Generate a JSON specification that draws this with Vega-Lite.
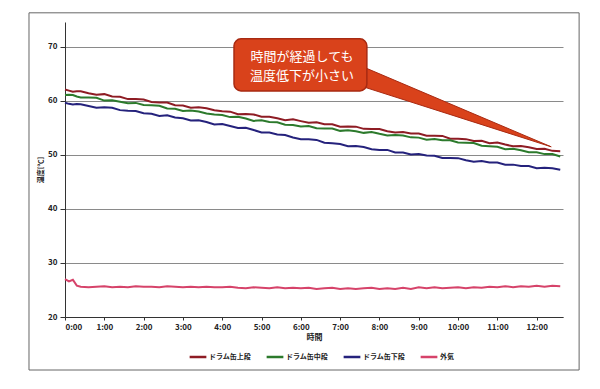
{
  "$schema": "https://vega.github.io/schema/vega-lite/v6.json",
  "width": 498,
  "height": 295,
  "autosize": {"type": "none"},
  "padding": {"left": 65, "top": 22, "right": 37, "bottom": 72},
  "background": "white",
  "config": {"font": "Noto Sans CJK JP", "view": {"stroke": null}},
  "layer": [
    {
      "data": {"values": [{"x1": -0.916, "x2": 13.08, "y1": 10.19, "y2": 76.3}]},
      "mark": {"type": "rect", "filled": false, "stroke": "#666666", "strokeWidth": 1},
      "encoding": {
        "x": {"field": "x1", "type": "quantitative", "scale": {"domain": [0, 12.67], "nice": false, "zero": false}},
        "x2": {"field": "x2"},
        "y": {"field": "y1", "type": "quantitative", "scale": {"domain": [20, 74.6], "nice": false, "zero": false}},
        "y2": {"field": "y2"}
      }
    },
    {
      "data": {"values": [
        {"t":0,"ドラム缶上段":62.10,"ドラム缶中段":61.10,"ドラム缶下段":59.65,"外気":27.0},
        {"t":0.1,"ドラム缶上段":61.9,"ドラム缶中段":61.15,"ドラム缶下段":59.45,"外気":26.6},
        {"t":0.2,"ドラム缶上段":61.71,"ドラム缶中段":61.07,"ドラム缶下段":59.32,"外気":26.9},
        {"t":0.3,"ドラム缶上段":61.8,"ドラム缶中段":60.8,"ドラム缶下段":59.4,"外気":25.8},
        {"t":0.4,"ドラム缶上段":61.77,"ドラム缶中段":60.64,"ドラム缶下段":59.39,"外気":25.6},
        {"t":0.6,"ドラム缶上段":61.43,"ドラム缶中段":60.61,"ドラム缶下段":59.06,"外気":25.5},
        {"t":0.8,"ドラム缶上段":61.14,"ドラム缶中段":60.58,"ドラム缶下段":58.73,"外気":25.6},
        {"t":1.0,"ドラム缶上段":61.25,"ドラム缶中段":60.05,"ドラム缶下段":58.80,"外気":25.7},
        {"t":1.2,"ドラム缶上段":60.81,"ドラム缶中段":60.12,"ドラム缶下段":58.72,"外気":25.5},
        {"t":1.4,"ドラム缶上段":60.77,"ドラム缶中段":59.84,"ドラム缶下段":58.29,"外気":25.6},
        {"t":1.6,"ドラム缶上段":60.33,"ドラム缶中段":59.56,"ドラム缶下段":58.16,"外気":25.5},
        {"t":1.8,"ドラム缶上段":60.34,"ドラム缶中段":59.63,"ドラム缶下段":58.13,"外気":25.7},
        {"t":2.0,"ドラム缶上段":60.25,"ドラム缶中段":59.25,"ドラム缶下段":57.70,"外気":25.6},
        {"t":2.2,"ドラム缶上段":59.80,"ドラム缶中段":59.20,"ドラム缶下段":57.63,"外気":25.6},
        {"t":2.4,"ドラム缶上段":59.70,"ドラム缶中段":59.10,"ドラム缶下段":57.21,"外気":25.5},
        {"t":2.6,"ドラム缶上段":59.70,"ドラム缶中段":58.60,"ドラム缶下段":57.34,"外気":25.7},
        {"t":2.8,"ドラム缶上段":59.20,"ドラム缶中段":58.55,"ドラム缶下段":56.92,"外気":25.6},
        {"t":3.0,"ドラム缶上段":59.15,"ドラム缶中段":58.15,"ドラム缶下段":56.80,"外気":25.5},
        {"t":3.2,"ドラム缶上段":58.75,"ドラム缶中段":58.20,"ドラム缶下段":56.38,"外気":25.6},
        {"t":3.4,"ドラム缶上段":58.80,"ドラム缶中段":58.05,"ドラム缶下段":56.41,"外気":25.5},
        {"t":3.6,"ドラム缶上段":58.65,"ドラム缶中段":57.65,"ドラム缶下段":56.09,"外気":25.6},
        {"t":3.8,"ドラム缶上段":58.25,"ドラム缶中段":57.50,"ドラム缶下段":55.62,"外気":25.5},
        {"t":4.0,"ドラム缶上段":58.10,"ドラム缶中段":57.40,"ドラム缶下段":55.70,"外気":25.5},
        {"t":4.2,"ドラム缶上段":58.01,"ドラム缶中段":57.00,"ドラム缶下段":55.34,"外気":25.6},
        {"t":4.4,"ドラム缶上段":57.52,"ドラム缶中段":57.05,"ドラム缶下段":54.98,"外気":25.4},
        {"t":4.6,"ドラム缶上段":57.58,"ドラム缶中段":56.75,"ドラム缶下段":55.02,"外気":25.3},
        {"t":4.8,"ドラム缶上段":57.49,"ドラム缶中段":56.30,"ドラム缶下段":54.61,"外気":25.5},
        {"t":5.0,"ドラム缶上段":57.05,"ドラム缶中段":56.40,"ドラム缶下段":54.15,"外気":25.4},
        {"t":5.2,"ドラム缶上段":57.06,"ドラム缶中段":56.10,"ドラム缶下段":54.14,"外気":25.3},
        {"t":5.4,"ドラム缶上段":56.77,"ドラム缶中段":56.05,"ドラム缶下段":53.78,"外気":25.5},
        {"t":5.6,"ドラム缶上段":56.43,"ドラム缶中段":55.60,"ドラム缶下段":53.67,"外気":25.3},
        {"t":5.8,"ドラム缶上段":56.59,"ドラム缶中段":55.55,"ドラム缶下段":53.21,"外気":25.4},
        {"t":6.0,"ドラム缶上段":56.25,"ドラム缶中段":55.25,"ドラム缶下段":52.90,"外気":25.3},
        {"t":6.2,"ドラム缶上段":55.94,"ドラム缶中段":55.36,"ドラム缶下段":52.89,"外気":25.4},
        {"t":6.4,"ドラム缶上段":56.03,"ドラム缶中段":54.92,"ドラム缶下段":52.78,"外気":25.2},
        {"t":6.6,"ドラム缶上段":55.67,"ドラム缶中段":54.88,"ドラム缶下段":52.27,"外気":25.3},
        {"t":6.8,"ドラム缶上段":55.66,"ドラム缶中段":54.89,"ドラム缶下段":52.16,"外気":25.4},
        {"t":7.0,"ドラム缶上段":55.20,"ドラム缶中段":54.45,"ドラム缶下段":52.00,"外気":25.2},
        {"t":7.2,"ドラム缶上段":55.24,"ドラム缶中段":54.56,"ドラム缶下段":51.59,"外気":25.3},
        {"t":7.4,"ドラム缶上段":55.23,"ドラム缶中段":54.37,"ドラム缶下段":51.63,"外気":25.2},
        {"t":7.6,"ドラム缶上段":54.82,"ドラム缶中段":54.08,"ドラム缶下段":51.47,"外気":25.3},
        {"t":7.8,"ドラム缶上段":54.81,"ドラム缶中段":54.24,"ドラム缶下段":51.06,"外気":25.4},
        {"t":8.0,"ドラム缶上段":54.80,"ドラム缶中段":53.90,"ドラム缶下段":50.90,"外気":25.2},
        {"t":8.2,"ドラム缶上段":54.39,"ドラム缶中段":53.60,"ドラム缶下段":50.93,"外気":25.3},
        {"t":8.4,"ドラム缶上段":54.13,"ドラム缶中段":53.70,"ドラム缶下段":50.46,"外気":25.2},
        {"t":8.6,"ドラム缶上段":54.22,"ドラム缶中段":53.60,"ドラム缶下段":50.44,"外気":25.4},
        {"t":8.8,"ドラム缶上段":53.96,"ドラム缶中段":53.25,"ドラム缶下段":50.07,"外気":25.2},
        {"t":9.0,"ドラム缶上段":53.95,"ドラム缶中段":53.20,"ドラム缶下段":50.15,"外気":25.5},
        {"t":9.2,"ドラム缶上段":53.54,"ドラム缶中段":52.80,"ドラム缶下段":49.88,"外気":25.3},
        {"t":9.4,"ドラム缶上段":53.53,"ドラム缶中段":52.95,"ドラム缶下段":49.86,"外気":25.5},
        {"t":9.6,"ドラム缶上段":53.52,"ドラム缶中段":52.70,"ドラム缶下段":49.44,"外気":25.3},
        {"t":9.8,"ドラム缶上段":53.01,"ドラム缶中段":52.70,"ドラム缶下段":49.42,"外気":25.4},
        {"t":10.0,"ドラム缶上段":53.00,"ドラム缶中段":52.30,"ドラム缶下段":49.40,"外気":25.5},
        {"t":10.2,"ドラム缶上段":52.92,"ドラム缶中段":52.25,"ドラム缶下段":49.00,"外気":25.3},
        {"t":10.4,"ドラム缶上段":52.59,"ドラム缶中段":52.20,"ドラム缶下段":48.75,"外気":25.5},
        {"t":10.6,"ドラム缶上段":52.61,"ドラム缶中段":51.70,"ドラム缶下段":48.85,"外気":25.4},
        {"t":10.8,"ドラム缶上段":52.18,"ドラム缶中段":51.60,"ドラム缶下段":48.60,"外気":25.6},
        {"t":11.0,"ドラム缶上段":52.30,"ドラム缶中段":51.50,"ドラム缶下段":48.60,"外気":25.5},
        {"t":11.2,"ドラム缶上段":51.92,"ドラム缶中段":51.05,"ドラム缶下段":48.20,"外気":25.7},
        {"t":11.4,"ドラム缶上段":51.59,"ドラム缶中段":51.15,"ドラム缶下段":48.20,"外気":25.5},
        {"t":11.6,"ドラム缶上段":51.66,"ドラム缶中段":50.85,"ドラム缶下段":47.95,"外気":25.7},
        {"t":11.8,"ドラム缶上段":51.43,"ドラム缶中段":50.50,"ドラム缶下段":47.95,"外気":25.6},
        {"t":12.0,"ドラム缶上段":51.10,"ドラム缶中段":50.50,"ドラム缶下段":47.55,"外気":25.8},
        {"t":12.2,"ドラム缶上段":51.15,"ドラム缶中段":50.15,"ドラム缶下段":47.62,"外気":25.6},
        {"t":12.4,"ドラム缶上段":50.75,"ドラム缶中段":50.15,"ドラム缶下段":47.54,"外気":25.8},
        {"t":12.6,"ドラム缶上段":50.70,"ドラム缶中段":49.70,"ドラム缶下段":47.26,"外気":25.7}
      ]},
      "transform": [{"fold": ["ドラム缶上段", "ドラム缶中段", "ドラム缶下段", "外気"], "as": ["系列", "温度"]}],
      "mark": {"type": "line", "strokeWidth": 2},
      "encoding": {
        "x": {
          "field": "t", "type": "quantitative",
          "scale": {"domain": [0, 12.67], "nice": false, "zero": false},
          "axis": {
            "values": [0,0.5,1,1.5,2,2.5,3,3.5,4,4.5,5,5.5,6,6.5,7,7.5,8,8.5,9,9.5,10,10.5,11,11.5,12,12.5],
            "labelExpr": "datum.value % 1 == 0 ? datum.value + ':00' : ''",
            "grid": false, "tickSize": 3, "domainColor": "#333333", "tickColor": "#333333",
            "labelFontSize": 8, "labelFontWeight": "bold", "labelColor": "#222222", "labelPadding": 3,
            "title": "時間", "titleFontSize": 8, "titleFontWeight": "bold", "titleColor": "#222222", "titlePadding": 2
          }
        },
        "y": {
          "field": "温度", "type": "quantitative",
          "scale": {"domain": [20, 74.6], "nice": false, "zero": false},
          "axis": {
            "values": [20, 30, 40, 50, 60, 70],
            "grid": true, "gridColor": "#8a8a8a", "gridWidth": 1,
            "domainColor": "#333333", "tickColor": "#333333", "tickSize": 5,
            "labelFontSize": 8, "labelFontWeight": "bold", "labelColor": "#222222", "labelPadding": 3,
            "title": "温度[℃]", "titleFontSize": 7, "titleFontWeight": "bold", "titleColor": "#222222", "titlePadding": 4
          }
        },
        "color": {
          "field": "系列", "type": "nominal",
          "scale": {"domain": ["ドラム缶上段", "ドラム缶中段", "ドラム缶下段", "外気"], "range": ["#8e1c24", "#2c7a2c", "#25227c", "#d6436a"]},
          "legend": {
            "orient": "none", "legendX": 123, "legendY": 325, "direction": "horizontal", "title": null,
            "symbolType": "stroke", "symbolSize": 280, "symbolStrokeWidth": 2.5,
            "labelFontSize": 7, "labelFontWeight": "bold", "labelColor": "#222222", "labelOffset": 1, "columnPadding": 10
          }
        }
      }
    },
    {
      "data": {"values": [{"t": 7.55, "y": 66.4, "y2": 62.7}, {"t": 12.37, "y": 51.5, "y2": 51.5}]},
      "mark": {"type": "area", "fill": "#d9421b", "stroke": "#a82a12", "strokeWidth": 1},
      "encoding": {
        "x": {"field": "t", "type": "quantitative", "scale": {"domain": [0, 12.67], "nice": false, "zero": false}},
        "y": {"field": "y", "type": "quantitative", "scale": {"domain": [20, 74.6], "nice": false, "zero": false}},
        "y2": {"field": "y2"}
      }
    },
    {
      "data": {"values": [{"x1": 4.30, "x2": 7.68, "y1": 61.85, "y2": 71.48}]},
      "mark": {"type": "rect", "cornerRadius": 7, "fill": "#d9421b", "stroke": "#a82a12", "strokeWidth": 1.5},
      "encoding": {
        "x": {"field": "x1", "type": "quantitative", "scale": {"domain": [0, 12.67], "nice": false, "zero": false}},
        "x2": {"field": "x2"},
        "y": {"field": "y1", "type": "quantitative", "scale": {"domain": [20, 74.6], "nice": false, "zero": false}},
        "y2": {"field": "y2"}
      }
    },
    {
      "data": {"values": [{"t": 6.03, "y": 68.2, "label": "時間が経過しても\n温度低下が小さい"}]},
      "mark": {"type": "text", "lineBreak": "\n", "fontSize": 13, "lineHeight": 19, "fill": "white", "align": "center", "baseline": "middle"},
      "encoding": {
        "x": {"field": "t", "type": "quantitative", "scale": {"domain": [0, 12.67], "nice": false, "zero": false}},
        "y": {"field": "y", "type": "quantitative", "scale": {"domain": [20, 74.6], "nice": false, "zero": false}},
        "text": {"field": "label"}
      }
    }
  ]
}
